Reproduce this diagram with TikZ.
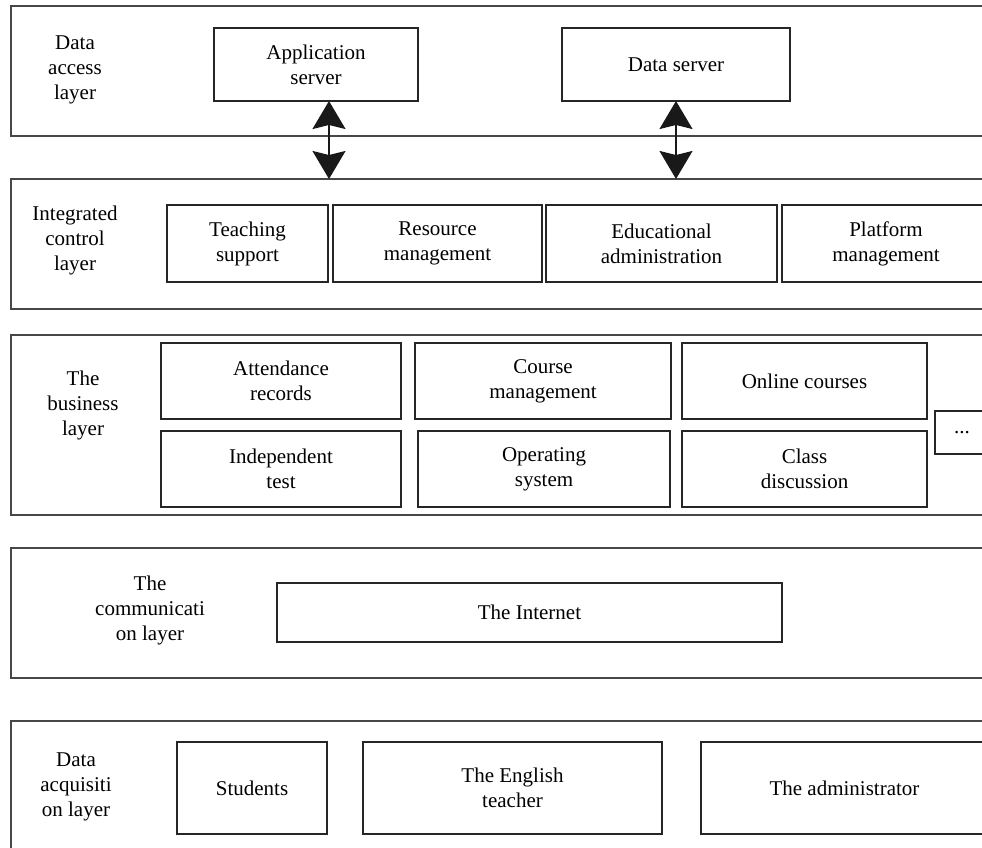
\documentclass[tikz,border=0pt]{standalone}
\usepackage{fontspec}
\setmainfont{Liberation Serif}
\usetikzlibrary{arrows.meta}
\begin{document}
\begin{tikzpicture}[x=1pt,y=-1pt,
  every node/.style={font=\fontsize{21}{25}\selectfont, align=center, inner sep=0pt, outer sep=0pt},
  layerbox/.style={draw=black!72, line width=1.3pt, anchor=north west, minimum width=1000},
  itembox/.style={draw=black!85, line width=1.1pt},
  dblarrow/.style={line width=1.4pt, black!90, {Stealth[length=28pt,width=33pt,inset=4pt]}-{Stealth[length=28pt,width=33pt,inset=4pt]}}]
\clip (0,0) rectangle (982,848);
\fill[white] (0,0) rectangle (982,848);
% layers
\node[layerbox, minimum height=130] (L1) at (11,6) {};
\node[layerbox, minimum height=130] (L2) at (11,179) {};
\node[layerbox, minimum height=180] (L3) at (11,335) {};
\node[layerbox, minimum height=130] (L4) at (11,548) {};
\node[layerbox, minimum height=160] (L5) at (11,721) {};
% layer labels
\node (t1) at (75,70) {Data\\access\\layer};
\node (t2) at (75,240) {Integrated\\control\\layer};
\node (t3) at (83,405) {The\\business\\layer};
\node (t4) at (150,610) {The\\communicati\\on layer};
\node (t5) at (76,787) {Data\\acquisiti\\on layer};
% data access layer
\node[itembox, minimum width=204, minimum height=73] (app) at (316,64.5) {Application\\server};
\node[itembox, minimum width=228, minimum height=73] (dsrv) at (676,64.5) {Data server};
% integrated control layer
\node[itembox, minimum width=161, minimum height=77] (teach) at (247.5,243.5) {Teaching\\support};
\node[itembox, minimum width=209, minimum height=77] (res) at (437.5,243.5) {Resource\\management};
\node[itembox, minimum width=231, minimum height=77] (edu) at (661.5,243.5) {Educational\\administration};
\node[itembox, minimum width=208, minimum height=77] (plat) at (886,243.5) {Platform\\management};
% business layer
\node[itembox, minimum width=240, minimum height=76] (att) at (281,381) {Attendance\\records};
\node[itembox, minimum width=256, minimum height=76] (course) at (543,381) {Course\\management};
\node[itembox, minimum width=245, minimum height=76] (online) at (804.5,381) {Online courses};
\node[itembox, minimum width=240, minimum height=76] (indep) at (281,469) {Independent\\test};
\node[itembox, minimum width=252, minimum height=76] (oper) at (544,469) {Operating\\system};
\node[itembox, minimum width=245, minimum height=76] (cls) at (804.5,469) {Class\\discussion};
\node[itembox, minimum width=54, minimum height=43] (dots) at (962,432.5) {...};
% communication layer
\node[itembox, minimum width=505, minimum height=59] (net) at (529.5,612.5) {The Internet};
% data acquisition layer
\node[itembox, minimum width=150, minimum height=92] (stu) at (252,788) {Students};
\node[itembox, minimum width=299, minimum height=92] (eng) at (512.5,788) {The English\\teacher};
\node[itembox, minimum width=287, minimum height=92] (adm) at (844.5,788) {The administrator};
% arrows
\draw[dblarrow] ([xshift=13pt]app.south) -- ([xshift=13pt]app.south |- L2.north);
\draw[dblarrow] (dsrv.south) -- (dsrv.south |- L2.north);
\end{tikzpicture}
\end{document}
